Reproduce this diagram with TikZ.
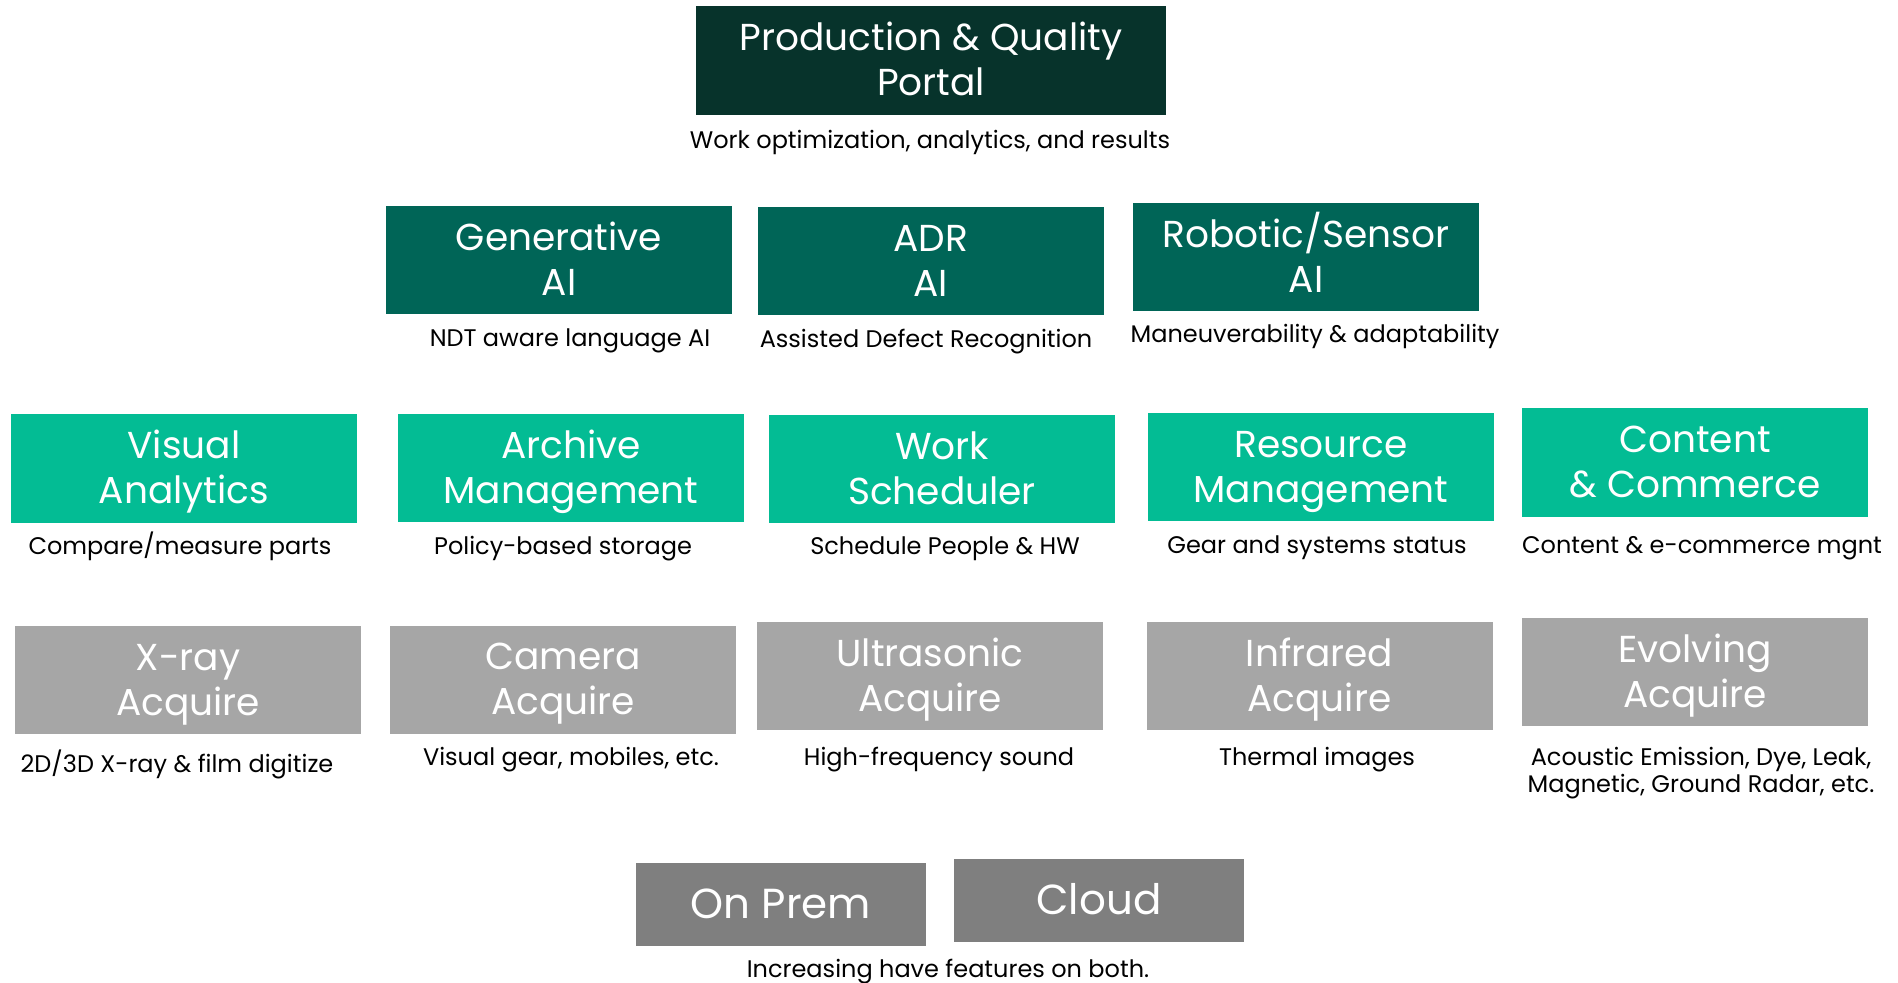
\documentclass[tikz,border=0pt]{standalone}
\usepackage{fontspec}
\setmainfont{Poppins}
\definecolor{portal}{HTML}{07332B}
\definecolor{aiteal}{HTML}{006557}
\definecolor{appgreen}{HTML}{03BC94}
\definecolor{acqgray}{HTML}{A6A6A6}
\definecolor{hostgray}{HTML}{7F7F7F}
\begin{document}
\begin{tikzpicture}[x=0.5pt,y=-0.5pt,
  tile/.style={rectangle, inner sep=0pt, minimum width=173pt, minimum height=54pt,
    text=white, align=center, text height=35.4pt, text depth=0pt,
    font=\fontsize{18.75}{22.5}\selectfont},
  hosttile/.style={tile, fill=hostgray, minimum width=145pt, minimum height=41.5pt,
    text height=14.5pt, font=\fontsize{21}{25}\selectfont},
  caption/.style={inner sep=0pt, align=center, anchor=base,
    font=\fontsize{12}{13.5}\selectfont},
]
\useasboundingbox (0,0) rectangle (1898,983);

% portal
\node[tile, fill=portal, minimum width=235pt, minimum height=54.5pt] (portal) at (931,60.5) {Production \& Quality\\Portal};
\node[caption] (portalc) at (930,149) {Work optimization, analytics, and results};

% AI layer
\node[tile, fill=aiteal] (gen) at (559,260) {Generative\\AI};
\node[tile, fill=aiteal] (adr) at (930.5,261.5) {ADR\\AI};
\node[tile, fill=aiteal] (rob) at (1306,257.5) {Robotic/Sensor\\AI};
\node[caption] (genc) at (570,347) {NDT aware language AI};
\node[caption] (adrc) at (926,348) {Assisted Defect Recognition};
\node[caption] (robc) at (1315,343) {Maneuverability \& adaptability};

% application layer
\node[tile, fill=appgreen] (vis) at (184,468.5) {Visual\\Analytics};
\node[tile, fill=appgreen] (arc) at (571,468) {Archive\\Management};
\node[tile, fill=appgreen] (wrk) at (942,469) {Work\\Scheduler};
\node[tile, fill=appgreen] (res) at (1321,467) {Resource\\Management};
\node[tile, fill=appgreen] (con) at (1695,462.5) {Content\\\& Commerce};
\node[caption] (visc) at (180,554) {Compare/measure parts};
\node[caption] (arcc) at (563,554) {Policy-based storage};
\node[caption] (wrkc) at (945,554) {Schedule People \& HW};
\node[caption] (resc) at (1317,553) {Gear and systems status};
\node[caption] (conc) at (1702,553) {Content \& e-commerce mgnt};

% acquisition layer
\node[tile, fill=acqgray] (xry) at (188,680) {X-ray\\Acquire};
\node[tile, fill=acqgray] (cam) at (563,679.5) {Camera\\Acquire};
\node[tile, fill=acqgray] (uls) at (930,676) {Ultrasonic\\Acquire};
\node[tile, fill=acqgray] (irr) at (1319.5,676) {Infrared\\Acquire};
\node[tile, fill=acqgray] (evo) at (1695,672) {Evolving\\Acquire};
\node[caption] (xryc) at (177,772) {2D/3D X-ray \& film digitize};
\node[caption] (camc) at (571,765) {Visual gear, mobiles, etc.};
\node[caption] (ulsc) at (939,765) {High-frequency sound};
\node[caption] (irrc) at (1317,765) {Thermal images};
\node[caption] (evoc) at (1701,792) {Acoustic Emission, Dye, Leak,\\Magnetic, Ground Radar, etc.};

% hosting
\node[hosttile] (prem) at (781,904) {On Prem};
\node[hosttile] (cloud) at (1099,900) {Cloud};
\node[caption] (hostc) at (948,977) {Increasing have features on both.};
\end{tikzpicture}
\end{document}
